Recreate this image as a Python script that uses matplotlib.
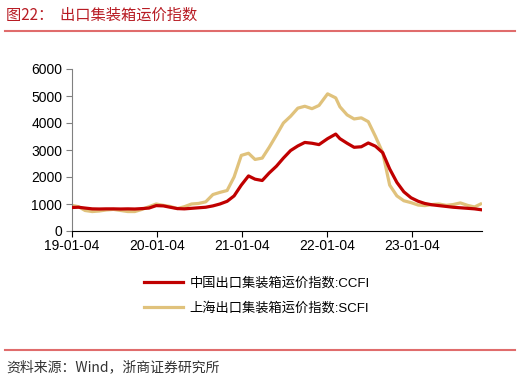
import numpy as np
import pandas as pd
import matplotlib
matplotlib.use("Agg")
import matplotlib.pyplot as plt
import matplotlib.dates as mdates

plt.rcParams['font.family'] = ['Liberation Sans', 'Noto Sans CJK SC']

# month-ish samples
dates = pd.to_datetime([
    "2019-01-04", "2019-02-01", "2019-03-01", "2019-04-01", "2019-05-01", "2019-06-01",
    "2019-07-01", "2019-08-01", "2019-09-01", "2019-10-01", "2019-11-01", "2019-12-01",
    "2020-01-01", "2020-02-01", "2020-03-01", "2020-04-01", "2020-05-01", "2020-06-01",
    "2020-07-01", "2020-08-01", "2020-09-01", "2020-10-01", "2020-11-01", "2020-12-01",
    "2021-01-01", "2021-02-01", "2021-03-01", "2021-04-01", "2021-05-01", "2021-06-01",
    "2021-07-01", "2021-08-01", "2021-09-01", "2021-10-01", "2021-11-01", "2021-12-01",
    "2022-01-07", "2022-02-11", "2022-03-01", "2022-04-01", "2022-05-01", "2022-06-01",
    "2022-07-01", "2022-08-01", "2022-09-01", "2022-10-01", "2022-11-01", "2022-12-01",
    "2023-01-01", "2023-02-01", "2023-03-01", "2023-04-01", "2023-05-01", "2023-06-01",
    "2023-07-01", "2023-08-01", "2023-09-01", "2023-10-01", "2023-10-27",
])

ccfi = [
    870, 880, 850, 820, 815, 820,
    820, 815, 820, 815, 830, 850,
    940, 930, 880, 830, 820, 840,
    860, 880, 930, 1000, 1100, 1300,
    1700, 2040, 1920, 1870, 2150, 2400,
    2700, 2980, 3150, 3280, 3250, 3200,
    3420, 3590, 3420, 3250, 3100, 3120,
    3260, 3140, 2900, 2300, 1800, 1450,
    1230, 1100, 1020, 970, 940, 910,
    880, 860, 840, 820, 790,
]

scfi = [
    950, 900, 760, 720, 740, 780,
    800, 760, 720, 720, 800, 900,
    1000, 950, 910, 830, 900, 1000,
    1020, 1080, 1350, 1430, 1500, 2000,
    2800, 2880, 2650, 2700, 3100, 3550,
    4000, 4250, 4550, 4620, 4530, 4650,
    5080, 4930, 4600, 4300, 4150, 4190,
    4050, 3500, 2900, 1700, 1300, 1120,
    1050, 960, 940, 980, 1000, 950,
    980, 1040, 950, 890, 1000,
]

xticks = pd.to_datetime(["2019-01-04", "2020-01-04", "2021-01-04", "2022-01-04", "2023-01-04"])

fig = plt.figure(figsize=(5.2, 3.81), dpi=100)
ax = fig.add_axes([72/520, 1 - 231/381, 410/520, 162/381])

ax.plot(dates, ccfi, color='#C00000', lw=2.3, label='中国出口集装箱运价指数:CCFI', zorder=3)
ax.plot(dates, scfi, color='#E0C27C', lw=2.3, label='上海出口集装箱运价指数:SCFI', zorder=2)

ax.set_ylim(0, 6000)
ax.set_yticks(range(0, 6001, 1000))
ax.set_xlim(pd.Timestamp("2019-01-04"), pd.Timestamp("2023-11-02"))
ax.set_xticks(xticks)
ax.xaxis.set_major_formatter(mdates.DateFormatter('%y-%m-%d'))

for s in ['top', 'right']:
    ax.spines[s].set_visible(False)
ax.spines['left'].set_color('#808080')
ax.spines['bottom'].set_color('black')
ax.tick_params(axis='y', direction='out', length=4, color='#808080', labelsize=10, pad=3)
ax.tick_params(axis='x', direction='out', length=4, color='black', labelsize=10, pad=2)

fig.legend(loc='upper left', bbox_to_anchor=(132/520, 1 - 265/381), frameon=False,
           handlelength=3.0, fontsize=9.5, labelspacing=0.95, handletextpad=0.45)

# header and footer
fig.text(6/520, 1 - 15/381, '图22：  出口集装箱运价指数', color='#B81C24', fontsize=11,
         family=['Noto Sans CJK SC'], va='center', ha='left')
fig.add_artist(plt.Line2D([5/520, 515/520], [1 - 31/381, 1 - 31/381], color='#E06C6C', lw=1.5))
fig.add_artist(plt.Line2D([5/520, 515/520], [1 - 350/381, 1 - 350/381], color='#E06C6C', lw=1.5))
fig.text(6/520, 1 - 367/381, '资料来源：Wind，浙商证券研究所', color='#333333', fontsize=10,
         family=['Noto Sans CJK SC'], va='center', ha='left')

fig.savefig('out.png', dpi=100)
